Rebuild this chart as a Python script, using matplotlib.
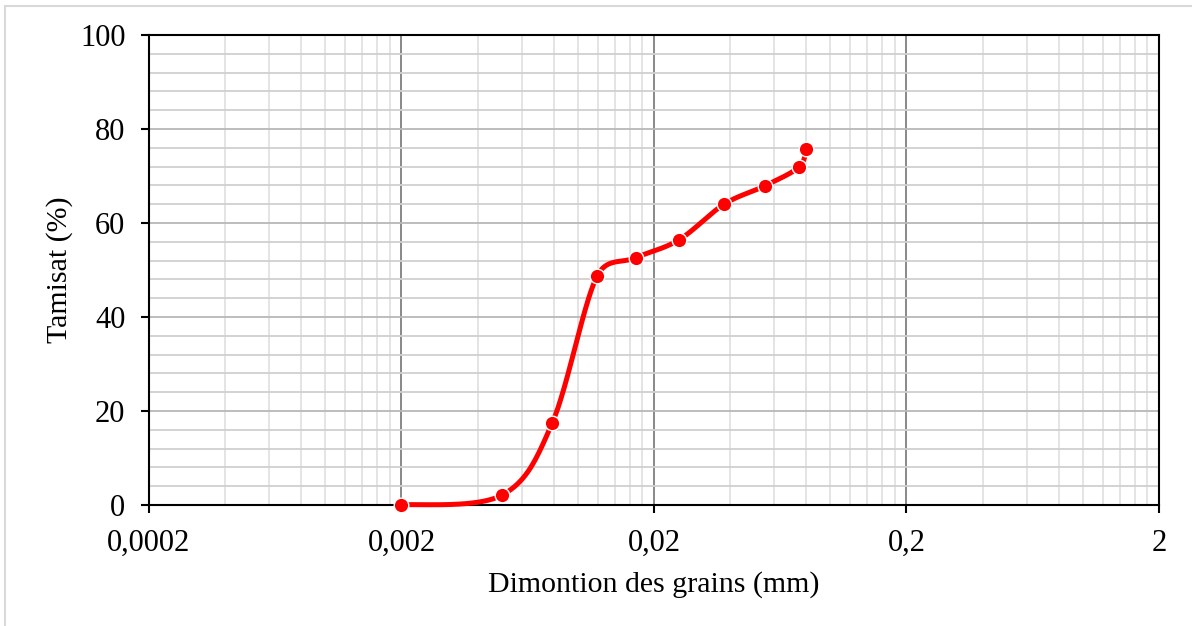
import matplotlib.pyplot as plt
import matplotlib.ticker as ticker
from matplotlib.patches import Rectangle
import numpy as np

plt.rcParams['font.family'] = ['Liberation Serif', 'DejaVu Serif']

# granulometric curve (sedimentometry)
diam = [0.002, 0.005, 0.0079, 0.0119, 0.0169, 0.0251, 0.0379, 0.055, 0.075, 0.080]
tamisat = [0.0, 2.1, 17.4, 48.7, 52.6, 56.4, 64.0, 67.9, 71.9, 75.7]

x_ticks = [0.0002, 0.002, 0.02, 0.2, 2]
x_labels = ['0,0002', '0,002', '0,02', '0,2', '2']
y_ticks = [0, 20, 40, 60, 80, 100]


def smooth(xs, ys, ax, n=40):
    # excel style smoothed line: bezier segments in display space
    pts = ax.transData.transform(np.column_stack([xs, ys]))
    out = []
    for i in range(len(pts) - 1):
        p0 = pts[max(i - 1, 0)]
        p1 = pts[i]
        p2 = pts[i + 1]
        p3 = pts[min(i + 2, len(pts) - 1)]
        d12 = np.hypot(*(p2 - p1))
        d02 = np.hypot(*(p2 - p0))
        d13 = np.hypot(*(p3 - p1))
        f1 = 1 / 6
        f2 = 1 / 6
        if d02 / 6 >= d12 / 2:
            f1 = d12 / 2 / d02
        if d13 / 6 >= d12 / 2:
            f2 = d12 / 2 / d13
        c1 = p1 + (p2 - p0) * f1
        c2 = p2 - (p3 - p1) * f2
        t = np.linspace(0, 1, n)[:, None]
        seg = (1 - t) ** 3 * p1 + 3 * (1 - t) ** 2 * t * c1 + 3 * (1 - t) * t ** 2 * c2 + t ** 3 * p2
        out.append(seg)
    out = np.vstack(out)
    data = ax.transData.inverted().transform(out)
    return data[:, 0], data[:, 1]


fig = plt.figure(figsize=(11.92, 6.26), dpi=100)
fig.patches.append(Rectangle((5 / 1192, -0.1), 1.2, 1 - 6 / 626 + 0.1, transform=fig.transFigure,
                             fill=False, edgecolor='#d9d9d9', linewidth=1.5))
ax = fig.add_axes([149 / 1192, 121 / 626, (1159 - 149) / 1192, (505 - 35) / 626])
ax.set_xscale('log')
ax.set_xlim(0.0002, 2)
ax.set_ylim(0, 100)

ax.xaxis.set_major_locator(ticker.FixedLocator(x_ticks))
ax.xaxis.set_major_formatter(ticker.FixedFormatter(x_labels))
minor_x = [k * d for d in x_ticks[:-1] for k in range(2, 10)]
ax.xaxis.set_minor_locator(ticker.FixedLocator(minor_x))
ax.xaxis.set_minor_formatter(ticker.NullFormatter())
ax.yaxis.set_major_locator(ticker.FixedLocator(y_ticks))
ax.yaxis.set_minor_locator(ticker.MultipleLocator(4))

ax.grid(True, which='major', axis='x', color='#7f7f7f', linewidth=1.3)
ax.grid(True, which='minor', axis='x', color='#e2e2e2', linewidth=1.3)
ax.grid(True, which='major', axis='y', color='#b8b8b8', linewidth=1.3)
ax.grid(True, which='minor', axis='y', color='#d0d0d0', linewidth=1.3)
ax.set_axisbelow(True)

for s in ax.spines.values():
    s.set_linewidth(1.5)
    s.set_color('black')
ax.tick_params(which='major', direction='out', length=6, width=1.5, labelsize=22)
ax.tick_params(axis='x', which='major', pad=11)
ax.tick_params(axis='y', which='major', pad=11)
ax.tick_params(which='minor', length=0)

sx, sy = smooth(diam, tamisat, ax)
ax.plot(sx, sy, color='#ff0000', linewidth=3.6, solid_capstyle='round', zorder=3, clip_on=False)
ax.plot(diam, tamisat, linestyle='none', marker='o', markersize=10.5, clip_on=False,
        markerfacecolor='#ff0000', markeredgecolor='white', markeredgewidth=1.0, zorder=4)

ax.set_xlabel('Dimontion des grains (mm)', fontsize=21.5, labelpad=10)
ax.set_ylabel('Tamisat (%)', fontsize=21.5, labelpad=5)

fig.savefig('out.png', dpi=100)
